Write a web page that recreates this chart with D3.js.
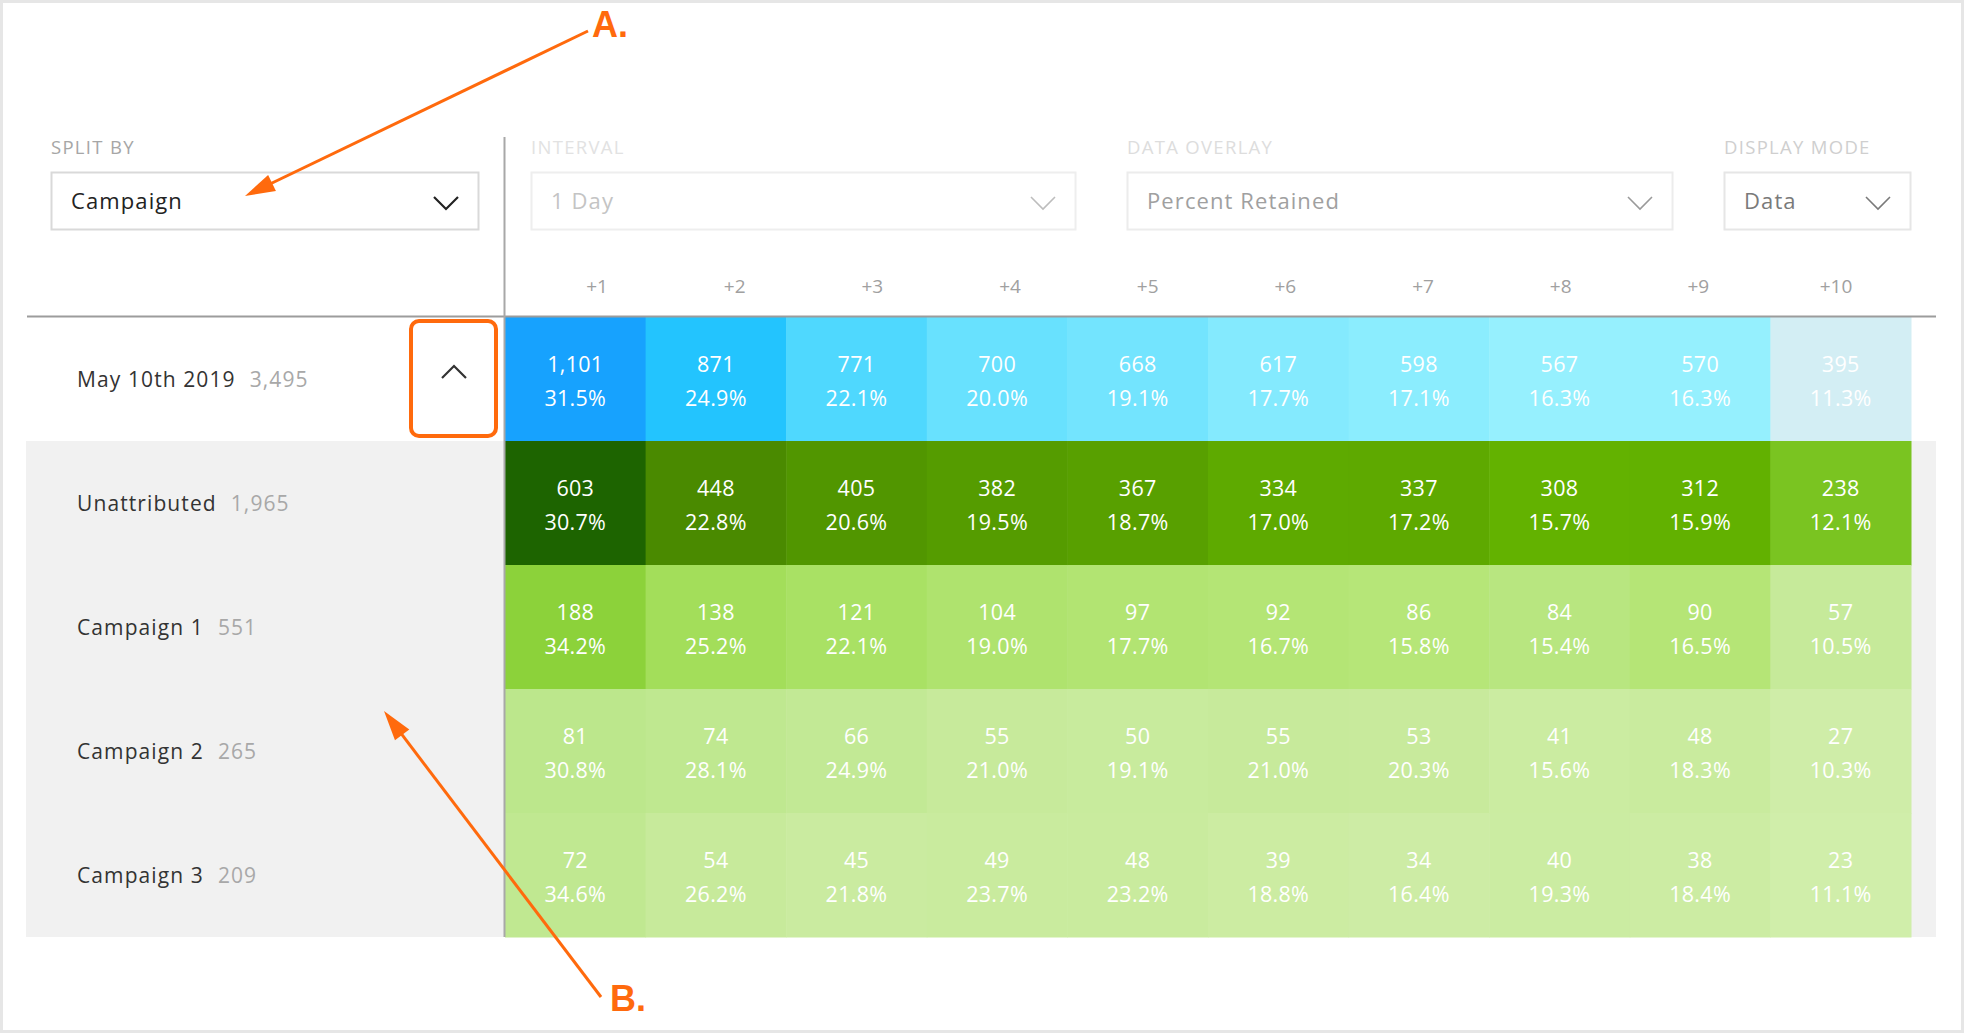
<!DOCTYPE html>
<html>
<head>
<meta charset="utf-8">
<script src="https://cdn.jsdelivr.net/npm/d3@7/dist/d3.min.js"></script>
<style>
  html, body { margin: 0; padding: 0; background: #fff; }
  svg { display: block; font-family: "Open Sans", "Noto Sans", sans-serif; }
</style>
</head>
<body>
<svg id="chart" width="1964" height="1033"></svg>
<script>
// ---------------- DATA ----------------
const columns = ["+1", "+2", "+3", "+4", "+5", "+6", "+7", "+8", "+9", "+10"];

const controlLabels = ["SPLIT BY", "INTERVAL", "DATA OVERLAY", "DISPLAY MODE"];
const controlValues = ["Campaign", "1 Day", "Percent Retained", "Data"];

const cohortLabel = "May 10th 2019";
const cohortSize = 3495;
const cohortCounts = [1101, 871, 771, 700, 668, 617, 598, 567, 570, 395];
const cohortPcts = [31.5, 24.9, 22.1, 20.0, 19.1, 17.7, 17.1, 16.3, 16.3, 11.3];

const segmentNames = ["Unattributed", "Campaign 1", "Campaign 2", "Campaign 3"];
const segmentSizes = [1965, 551, 265, 209];
const segmentCounts = [
  [603, 448, 405, 382, 367, 334, 337, 308, 312, 238],
  [188, 138, 121, 104, 97, 92, 86, 84, 90, 57],
  [81, 74, 66, 55, 50, 55, 53, 41, 48, 27],
  [72, 54, 45, 49, 48, 39, 34, 40, 38, 23]
];
const segmentPcts = [
  [30.7, 22.8, 20.6, 19.5, 18.7, 17.0, 17.2, 15.7, 15.9, 12.1],
  [34.2, 25.2, 22.1, 19.0, 17.7, 16.7, 15.8, 15.4, 16.5, 10.5],
  [30.8, 28.1, 24.9, 21.0, 19.1, 21.0, 20.3, 15.6, 18.3, 10.3],
  [34.6, 26.2, 21.8, 23.7, 23.2, 18.8, 16.4, 19.3, 18.4, 11.1]
];

const annotationLabels = ["A.", "B."];

// ---------------- LAYOUT ----------------
const svg = d3.select("#chart");
const W = 1964, H = 1033;
const orange = "#ff6a0d";
const fmt = d3.format(",");
const pfmt = d => d.toFixed(1) + "%";

// outer frame
svg.append("rect").attr("x", 1.5).attr("y", 1.5).attr("width", W - 3).attr("height", H - 3)
  .attr("fill", "#fff").attr("stroke", "#e6e6e6").attr("stroke-width", 3);

const rowKeys = [cohortLabel, ...segmentNames];
const x = d3.scaleBand().domain(columns).range([505, 1911]).padding(0);
const y = d3.scaleBand().domain(rowKeys).range([317, 937]).padding(0);
const xHead = d3.scalePoint().domain(columns).range([597, 1836]);

// colour scales
const blue = d3.scaleLinear()
  .domain([560, 800, 871, 1101])
  .range(["#98f1fe", "#45d5fe", "#23c4fe", "#17a2fe"])
  .interpolate(d3.interpolateRgb).clamp(true);
const green = d3.scaleLinear()
  .domain([20, 55, 81, 86, 138, 188, 238, 308, 382, 448, 603])
  .range(["#d1eeab", "#c7ea9b", "#bce78c", "#b6e678", "#a3de5a", "#8cd23a", "#7ac421", "#63b200", "#559c00", "#4a8a00", "#1d6400"])
  .interpolate(d3.interpolateRgb).clamp(true);

// gray background for segment rows
svg.append("rect")
  .attr("x", 26).attr("y", y(segmentNames[0]))
  .attr("width", 1936 - 26).attr("height", y.bandwidth() * segmentNames.length)
  .attr("fill", "#f1f1f1");

// ---------------- CONTROLS ----------------
const controls = [
  { x0: 51, x1: 479, labelColor: "#a6a6a6", valueColor: "#222", border: "#d9d9d9", chev: "#222" },
  { x0: 531, x1: 1076, labelColor: "#e2e2e2", valueColor: "#c4c4c4", border: "#eeeeee", chev: "#bdbdbd" },
  { x0: 1127, x1: 1673, labelColor: "#dddddd", valueColor: "#a0a0a0", border: "#ececec", chev: "#9a9a9a" },
  { x0: 1724, x1: 1911, labelColor: "#cfcfcf", valueColor: "#7a7a7a", border: "#e6e6e6", chev: "#7a7a7a" }
];
controls.forEach((c, i) => {
  svg.append("text").attr("x", c.x0).attr("y", 154)
    .attr("font-size", 18.5).attr("letter-spacing", 1.3).attr("fill", c.labelColor)
    .text(controlLabels[i]);
  svg.append("rect").attr("x", c.x0 + 0.5).attr("y", 172.5)
    .attr("width", c.x1 - c.x0 - 1).attr("height", 57)
    .attr("fill", "#fff").attr("stroke", c.border).attr("stroke-width", 2);
  svg.append("text").attr("x", c.x0 + 20).attr("y", 209)
    .attr("font-size", 22).attr("letter-spacing", 1.1).attr("fill", c.valueColor)
    .text(controlValues[i]);
  const cx = c.x1 - 33;
  const p = d3.path();
  p.moveTo(cx - 12, 197); p.lineTo(cx, 209); p.lineTo(cx + 12, 197);
  svg.append("path").attr("d", p.toString()).attr("fill", "none")
    .attr("stroke", c.chev).attr("stroke-width", i === 0 ? 2.2 : 1.6);
});

// column headers
svg.append("g").selectAll("text").data(columns).join("text")
  .attr("x", d => xHead(d)).attr("y", 293)
  .attr("text-anchor", "middle").attr("font-size", 19).attr("fill", "#a0a0a0")
  .text(d => d);

// ---------------- CELLS ----------------
const cells = [];
columns.forEach((c, j) => {
  cells.push({ row: cohortLabel, col: c, count: cohortCounts[j], pct: cohortPcts[j], cohort: true, last: j === columns.length - 1 });
});
segmentNames.forEach((s, i) => {
  columns.forEach((c, j) => {
    cells.push({ row: s, col: c, count: segmentCounts[i][j], pct: segmentPcts[i][j], cohort: false, last: j === columns.length - 1 });
  });
});

function cellColor(d) {
  if (d.cohort) {
    const base = blue(d.count);
    return d.last ? d3.interpolateRgb(base, "#e4edf1")(0.78) : base;
  }
  return green(d.count);
}

const g = svg.append("g");
g.selectAll("rect").data(cells).join("rect")
  .attr("x", d => x(d.col)).attr("y", d => y(d.row))
  .attr("width", x.bandwidth() + 0.5).attr("height", y.bandwidth() + 0.5)
  .attr("fill", cellColor);

g.selectAll("text.count").data(cells).join("text").attr("class", "count")
  .attr("x", d => x(d.col) + x.bandwidth() / 2)
  .attr("y", d => y(d.row) + y.bandwidth() / 2 - 7)
  .attr("text-anchor", "middle").attr("font-size", 21.5).attr("letter-spacing", 0.3)
  .attr("fill", "#fff").text(d => fmt(d.count));
g.selectAll("text.pct").data(cells).join("text").attr("class", "pct")
  .attr("x", d => x(d.col) + x.bandwidth() / 2)
  .attr("y", d => y(d.row) + y.bandwidth() / 2 + 27)
  .attr("text-anchor", "middle").attr("font-size", 21.5).attr("letter-spacing", 0.3)
  .attr("fill", "#fff").text(d => pfmt(d.pct));

// ---------------- ROW LABELS ----------------
const rowSizes = [cohortSize, ...segmentSizes];
const lab = svg.append("g").selectAll("text").data(rowKeys).join("text")
  .attr("x", 77).attr("y", d => y(d) + y.bandwidth() / 2 + 8)
  .attr("font-size", 21).attr("letter-spacing", 1.1).attr("fill", "#333");
lab.append("tspan").text(d => d);
lab.append("tspan").attr("dx", 14).attr("fill", "#a8a8a8").text((d, i) => fmt(rowSizes[i]));

// separators
svg.append("line").attr("x1", 27).attr("x2", 1936).attr("y1", 316.5).attr("y2", 316.5)
  .attr("stroke", "#9c9c9c").attr("stroke-width", 2);
svg.append("line").attr("x1", 504.5).attr("x2", 504.5).attr("y1", 137).attr("y2", 937)
  .attr("stroke", "#a8a8a8").attr("stroke-width", 2);

// collapse chevron and highlight box
{
  const p = d3.path();
  p.moveTo(442, 378); p.lineTo(454, 366); p.lineTo(466, 378);
  svg.append("path").attr("d", p.toString()).attr("fill", "none")
    .attr("stroke", "#333").attr("stroke-width", 2.2);
  svg.append("rect").attr("x", 411).attr("y", 321).attr("width", 85).attr("height", 115)
    .attr("rx", 8).attr("fill", "none").attr("stroke", orange).attr("stroke-width", 4);
}

// ---------------- ANNOTATIONS ----------------
function arrow(x1, y1, x2, y2) {
  const ang = Math.atan2(y2 - y1, x2 - x1);
  const len = 30, half = 9;
  const bx = x2 - len * Math.cos(ang), by = y2 - len * Math.sin(ang);
  svg.append("line").attr("x1", x1).attr("y1", y1).attr("x2", bx + 4 * Math.cos(ang)).attr("y2", by + 4 * Math.sin(ang))
    .attr("stroke", orange).attr("stroke-width", 3);
  const p = d3.path();
  p.moveTo(x2, y2);
  p.lineTo(bx + half * Math.sin(ang), by - half * Math.cos(ang));
  p.lineTo(bx - half * Math.sin(ang), by + half * Math.cos(ang));
  p.closePath();
  svg.append("path").attr("d", p.toString()).attr("fill", orange);
}
arrow(588, 31, 245, 196);
arrow(601, 997, 384, 711);
svg.append("text").attr("x", 592).attr("y", 37).attr("font-size", 36)
  .attr("font-family", "'Liberation Sans', Arial, sans-serif").attr("font-weight", 700)
  .attr("fill", orange).text(annotationLabels[0]);
svg.append("text").attr("x", 610).attr("y", 1011).attr("font-size", 36)
  .attr("font-family", "'Liberation Sans', Arial, sans-serif").attr("font-weight", 700)
  .attr("fill", orange).text(annotationLabels[1]);
</script>
</body>
</html>
